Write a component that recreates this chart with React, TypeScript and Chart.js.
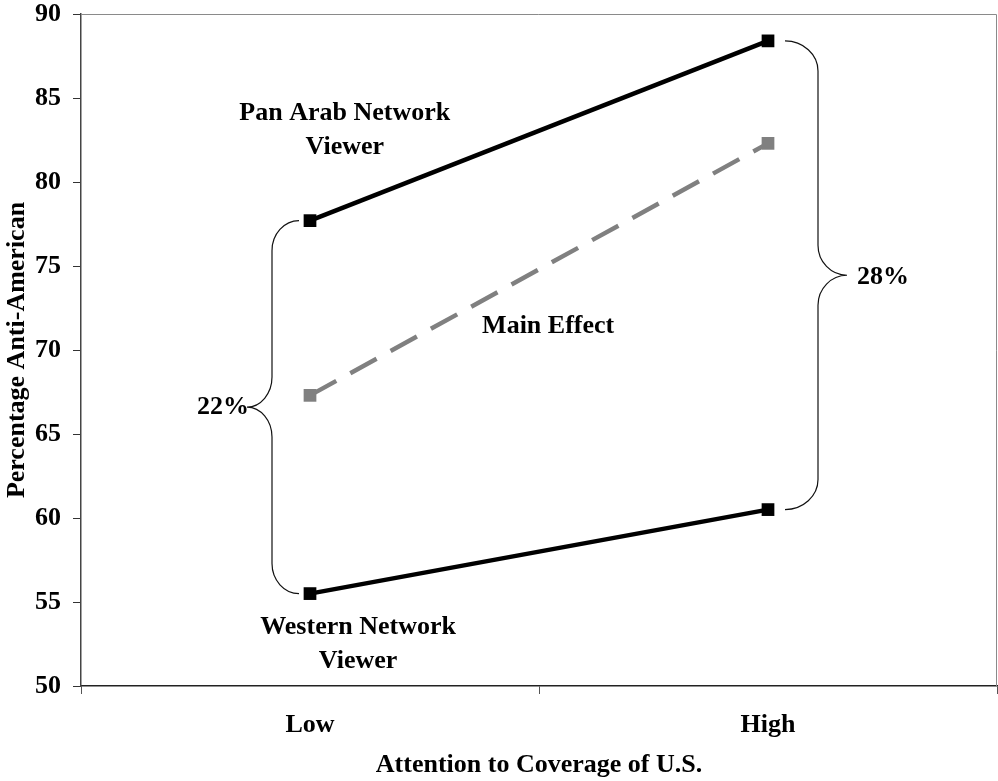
import React, { useEffect, useRef } from "react";
import { Chart, registerables } from "chart.js";

Chart.register(...registerables);

const categories = ["Low", "High"];
const panArab = [77.7, 88.4];
const mainEffect = [67.3, 82.3];
const western = [55.5, 60.5];
const yMin = 50;
const yMax = 90;
const yStep = 5;
const gapLabels = ["22%", "28%"];

const FONT = "'Liberation Serif', 'Times New Roman', serif";

const bracePlugin = {
  id: "braces",
  beforeDatasetsDraw(chart: any) {
    const { ctx, chartArea } = chart;
    ctx.save();
    ctx.strokeStyle = "#8a8a8a";
    ctx.lineWidth = 1;
    ctx.beginPath();
    ctx.moveTo(chartArea.left, chartArea.top + 0.5);
    ctx.lineTo(chartArea.right - 0.5, chartArea.top + 0.5);
    ctx.lineTo(chartArea.right - 0.5, chartArea.bottom);
    ctx.stroke();
    ctx.restore();
  },
  afterDatasetsDraw(chart: any) {
    const { ctx } = chart;
    const top = chart.getDatasetMeta(0).data;
    const bot = chart.getDatasetMeta(2).data;
    const x = chart.scales.x;
    const y = chart.scales.y;

    const drawBrace = (
      xa: number,
      yTop: number,
      yBot: number,
      dir: number,
      gEnd: number,
      gV: number,
      gTip: number,
      r: number
    ) => {
      const xe = xa + dir * gEnd;
      const xv = xa + dir * gV;
      const xt = xa + dir * gTip;
      const ym = (yTop + yBot) / 2;
      const k = 0.55;
      ctx.beginPath();
      ctx.moveTo(xe, yTop);
      ctx.bezierCurveTo(xe + (xv - xe) * k, yTop, xv, yTop + r * (1 - k), xv, yTop + r);
      ctx.lineTo(xv, ym - r);
      ctx.bezierCurveTo(xv, ym - r * (1 - k), xt - (xt - xv) * k, ym, xt, ym);
      ctx.bezierCurveTo(xt - (xt - xv) * k, ym, xv, ym + r * (1 - k), xv, ym + r);
      ctx.lineTo(xv, yBot - r);
      ctx.bezierCurveTo(xv, yBot - r * (1 - k), xe + (xv - xe) * k, yBot, xe, yBot);
      ctx.stroke();
      return { xt, ym };
    };

    ctx.save();
    ctx.strokeStyle = "#111";
    ctx.lineWidth = 1.2;
    const left = drawBrace(top[0].x, top[0].y, bot[0].y, -1, 11, 38, 63, 30);
    const right = drawBrace(top[1].x, top[1].y, bot[1].y, 1, 17, 50, 79, 30);

    ctx.fillStyle = "#000";
    ctx.font = `bold 26px ${FONT}`;
    ctx.textBaseline = "middle";
    ctx.textAlign = "right";
    ctx.fillText(gapLabels[0], left.xt + 2, left.ym);
    ctx.textAlign = "left";
    ctx.fillText(gapLabels[1], right.xt + 10, right.ym + 2);

    ctx.textAlign = "center";
    const label = (lines: string[], xi: number, yv: number) => {
      const px = x.getPixelForValue(xi);
      const py = y.getPixelForValue(yv);
      const lh = 34;
      const start = py - ((lines.length - 1) * lh) / 2;
      lines.forEach((l, i) => ctx.fillText(l, px, start + i * lh));
    };
    label(["Pan Arab Network", "Viewer"], 0.076, 83.1);
    label(["Main Effect"], 0.52, 71.4);
    label(["Western Network", "Viewer"], 0.105, 52.5);
    ctx.restore();
  },
};

const zeroPad = (s: any) => {
  s.paddingTop = 0;
  s.paddingBottom = 0;
  s.paddingLeft = 0;
  s.paddingRight = 0;
};

export default function App() {
  const ref = useRef<HTMLCanvasElement | null>(null);
  useEffect(() => {
    if (!ref.current) return;
    const pointOpts = {
      pointStyle: "rect",
      pointRadius: 9,
      pointBorderWidth: 0,
      tension: 0,
    };
    const chart = new Chart(ref.current, {
      type: "line",
      data: {
        labels: categories,
        datasets: [
          {
            label: "Pan Arab Network Viewer",
            data: panArab,
            borderColor: "#000",
            backgroundColor: "#000",
            borderWidth: 4.5,
            ...pointOpts,
          },
          {
            label: "Main Effect",
            data: mainEffect,
            borderColor: "#808080",
            backgroundColor: "#808080",
            borderWidth: 4.5,
            borderDash: [30, 16],
            ...pointOpts,
          },
          {
            label: "Western Network Viewer",
            data: western,
            borderColor: "#000",
            backgroundColor: "#000",
            borderWidth: 4.5,
            ...pointOpts,
          },
        ],
      },
      options: {
        responsive: false,
        animation: false,
        layout: { autoPadding: false, padding: { top: 14, right: 1, left: 0, bottom: 0 } },
        plugins: {
          legend: { display: false },
          tooltip: { enabled: false },
        },
        scales: {
          x: {
            type: "category",
            offset: true,
            afterFit: (s: any) => {
              s.height = 95;
              zeroPad(s);
            },
            grid: {
              offset: true,
              drawOnChartArea: false,
              drawTicks: true,
              tickLength: 8,
              color: "#555",
            },
            border: { color: "#222", width: 1.5 },
            ticks: {
              color: "#000",
              padding: 16,
              font: { family: FONT, size: 26, weight: "bold" },
            },
            title: {
              display: true,
              text: "Attention to Coverage of U.S.",
              color: "#000",
              padding: { top: 0, bottom: 0 },
              font: { family: FONT, size: 26, weight: "bold" },
            },
          },
          y: {
            min: yMin,
            max: yMax,
            afterFit: (s: any) => {
              s.width = 81;
              zeroPad(s);
            },
            ticks: {
              stepSize: yStep,
              color: "#000",
              padding: 12,
              font: { family: FONT, size: 26, weight: "bold", lineHeight: 1 },
            },
            grid: {
              drawOnChartArea: false,
              drawTicks: true,
              tickLength: 8,
              color: "#333",
            },
            border: { color: "#444", width: 1.5 },
            title: {
              display: true,
              text: "Percentage Anti-American",
              color: "#000",
              padding: { top: 2, bottom: 0 },
              font: { family: FONT, size: 26, weight: "bold" },
            },
          },
        },
      },
      plugins: [bracePlugin],
    } as any);
    return () => chart.destroy();
  }, []);
  return (
    <div style={{ position: "fixed", left: 0, top: 0, width: 998, height: 781, background: "#fff" }}>
      <canvas ref={ref} width={998} height={781} style={{ display: "block" }} />
    </div>
  );
}
